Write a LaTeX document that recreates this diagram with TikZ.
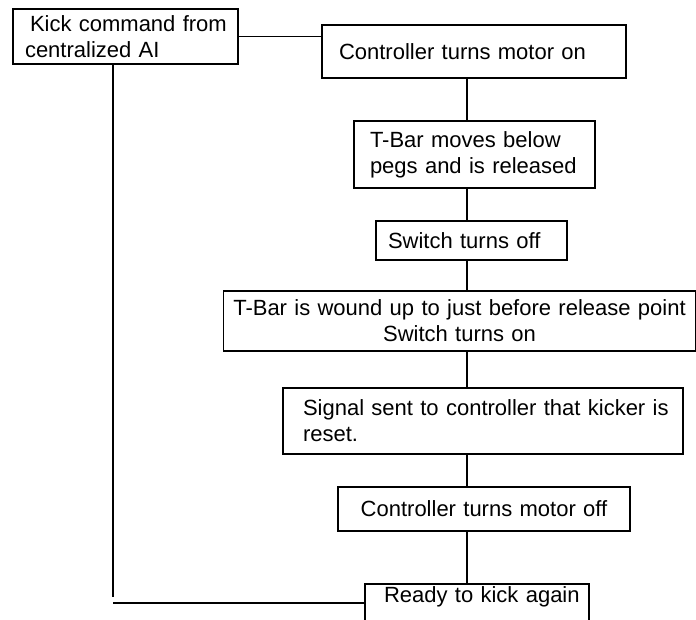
\documentclass[tikz,border=0pt]{standalone}
\usepackage{fontspec}
\setmainfont{Liberation Sans}
\usepackage{tikz}

\begin{document}
\begin{tikzpicture}[x=1pt,y=1pt,line width=1.6pt]
        \tikzset{stepbox/.style={draw, rectangle, inner ysep=0pt, font=\fontsize{22}{26}\selectfont}}
        \useasboundingbox (0,0) rectangle (696,-619);
        \clip (0,0) rectangle (696,-619);
        % boxes
        \node [stepbox, text width=201pt, inner xsep=12pt, minimum height=55pt, align=left] (kick) at (125.5,-36.5) {\mbox{\hspace*{5pt}Kick command from}\\\mbox{centralized AI}};
        \node [stepbox, text width=270pt, inner xsep=17pt, minimum height=53pt, align=left] (ctrlon) at (474,-51.5) {\mbox{Controller turns motor on}};
        \node [stepbox, text width=209pt, inner xsep=16pt, minimum height=67pt, align=left] (tbar) at (474.5,-154.5) {\mbox{T-Bar moves below}\\\mbox{pegs and is released}};
        \node [stepbox, text width=167pt, inner xsep=12pt, minimum height=39pt, align=left] (swoff) at (471.5,-240.5) {\mbox{Switch turns off}};
        \node [stepbox, text width=462pt, inner xsep=5pt, minimum height=60pt, align=center] (wound) at (459.5,-321) {\mbox{T-Bar is wound up to just before release point}\\\mbox{Switch turns on}};
        \node [stepbox, text width=360pt, inner xsep=20pt, minimum height=66pt, align=left] (signal) at (483,-421) {\mbox{Signal sent to controller that kicker is}\\\mbox{reset.}};
        \node [stepbox, text width=272pt, inner xsep=10pt, minimum height=44pt, align=center] (ctrloff) at (484,-509) {\mbox{Controller turns motor off}};
        \node [stepbox, text width=186pt, inner xsep=19pt, inner ysep=3pt, text height=16pt, text depth=30pt, align=left, anchor=north] (ready) at (477,-583) {\mbox{Ready to kick again}};
        % connectors
        \coordinate (spine) at (467,0);
        \coordinate (loop) at (113,-597);
        \coordinate (back) at (113,-603);
        \draw (kick.east) -- (kick.east -| ctrlon.west);
        \draw (spine |- ctrlon.south) -- (spine |- tbar.north);
        \draw (spine |- tbar.south) -- (spine |- swoff.north);
        \draw (spine |- swoff.south) -- (spine |- wound.north);
        \draw (spine |- wound.south) -- (spine |- signal.north);
        \draw (spine |- signal.south) -- (spine |- ctrloff.north);
        \draw (spine |- ctrloff.south) -- (spine |- ready.north);
        \draw (loop |- kick.south) -- (loop);
        \draw (back) -- (back -| ready.west);
\end{tikzpicture}
\end{document}
